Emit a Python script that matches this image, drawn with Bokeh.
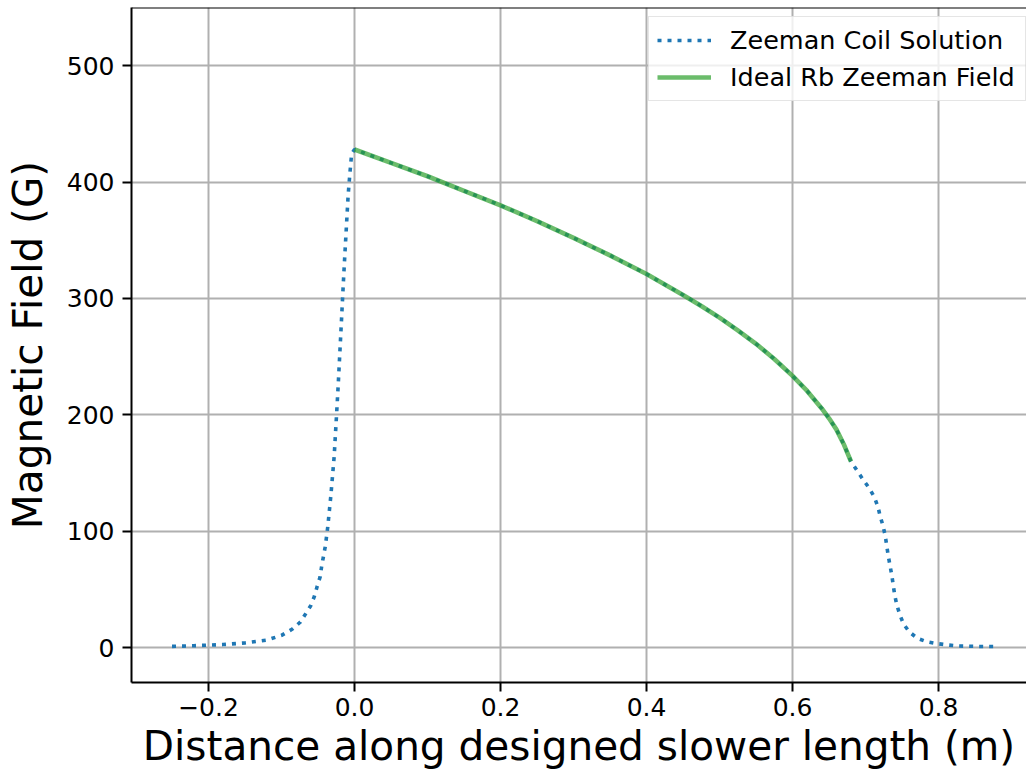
from bokeh.plotting import figure
from bokeh.models import FixedTicker, Legend, LegendItem, Span
from bokeh.embed import file_html
from bokeh.resources import INLINE

# Coil solution: field along the slower axis (m, G)
coil_x = [-0.25, -0.22, -0.20, -0.18, -0.15, -0.12, -0.10, -0.085, -0.074, -0.067,
          -0.060, -0.055, -0.051, -0.047, -0.045, -0.040, -0.0366, -0.0325, -0.0279,
          -0.0247, -0.0224, -0.0174, -0.0155, -0.0133, -0.011, -0.0087, -0.0064, -0.004,
          0.0, 0.05, 0.10, 0.15, 0.20, 0.25, 0.30, 0.35, 0.40, 0.45, 0.475, 0.50, 0.525,
          0.55, 0.575, 0.60, 0.62, 0.64, 0.65, 0.66, 0.67, 0.68, 0.689, 0.697, 0.705,
          0.712, 0.717, 0.720, 0.724, 0.727, 0.731, 0.736, 0.740, 0.743, 0.747, 0.752,
          0.760, 0.771, 0.784, 0.798, 0.812, 0.826, 0.840, 0.855, 0.880]
coil_b = [1.0, 1.6, 2.1, 2.6, 4.0, 6.5, 10.5, 16, 22, 29,
          36, 44, 53, 61, 70, 87, 104, 130, 164,
          199, 225, 287, 311, 337, 363, 389, 407, 424,
          428, 416.5, 405, 392.5, 380, 366.5, 352, 337, 321, 303, 293.5, 283.5, 272.5,
          261, 248, 233.5, 220.5, 205.5, 197, 187.5, 175, 160, 151.5, 144, 137,
          129.5, 121, 113, 104.6, 96, 79.3, 62, 45, 36.3, 28.3, 20.3,
          13.5, 8, 5, 3.4, 2.3, 1.4, 1.2, 1.0, 0.9]

# Ideal Rb Zeeman field profile
ideal_x = [0.0, 0.05, 0.10, 0.15, 0.20, 0.25, 0.30, 0.35, 0.40, 0.45, 0.475, 0.50,
           0.525, 0.55, 0.575, 0.60, 0.62, 0.64, 0.65, 0.66, 0.67, 0.68]
ideal_b = [428, 416.5, 405, 392.5, 380, 366.5, 352, 337, 321, 303, 293.5, 283.5,
           272.5, 261, 248, 233.5, 220.5, 205.5, 197, 187.5, 175, 160]

x_ticks = [-0.2, 0.0, 0.2, 0.4, 0.6, 0.8]
x_tick_labels = ["\u22120.2", "0.0", "0.2", "0.4", "0.6", "0.8"]
y_ticks = [0, 100, 200, 300, 400, 500]

FONT = "DejaVu Sans"

p = figure(width=1026, height=776, output_backend="svg", toolbar_location=None,
           x_range=(-0.3055, 0.9205), y_range=(-30, 550),
           min_border_left=130, min_border_right=0, min_border_top=7,
           min_border_bottom=94)
p.outline_line_color = None
p.background_fill_color = "white"
p.border_fill_color = "white"

for ax in (p.xaxis[0], p.yaxis[0]):
    ax.axis_line_width = 2
    ax.axis_line_color = "black"
    ax.major_tick_line_width = 2
    ax.major_tick_out = 9
    ax.major_tick_in = 0
    ax.minor_tick_line_color = None
    ax.major_label_text_font = FONT
    ax.major_label_text_font_size = "25px"
    ax.major_label_text_color = "black"
    ax.axis_label_text_font = FONT
    ax.axis_label_text_font_size = "40.6px"
    ax.axis_label_text_font_style = "normal"
    ax.axis_label_text_color = "black"

p.xaxis.ticker = FixedTicker(ticks=x_ticks)
p.xaxis.major_label_overrides = {t: s for t, s in zip(x_ticks, x_tick_labels)}
p.yaxis.ticker = FixedTicker(ticks=y_ticks)
p.xaxis.axis_label = "Distance along designed slower length (m)"
p.yaxis.axis_label = "Magnetic Field (G)"
p.xaxis.major_label_standoff = 6
p.xaxis.axis_label_standoff = 3
p.yaxis.major_label_standoff = 8
p.yaxis.axis_label_standoff = 12

p.xgrid.ticker = FixedTicker(ticks=x_ticks)
p.ygrid.ticker = FixedTicker(ticks=y_ticks)
for g in (p.xgrid[0], p.ygrid[0]):
    g.grid_line_color = "#b0b0b0"
    g.grid_line_width = 2

# top border of the axes box
p.add_layout(Span(location=550, dimension="width", line_color="black", line_width=2))

coil = p.line(coil_x, coil_b, line_color="#1f77b4", line_width=3.6,
              line_dash="4 6", line_cap="butt")
ideal = p.line(ideal_x, ideal_b, line_color="#2ca02c", line_alpha=0.7, line_width=4.6)

legend = Legend(items=[LegendItem(label="Zeeman Coil Solution", renderers=[coil]),
                       LegendItem(label="Ideal Rb Zeeman Field", renderers=[ideal])],
                location=(517, 581), orientation="vertical")
legend.label_text_font = FONT
legend.label_text_font_size = "25.5px"
legend.label_text_color = "black"
legend.glyph_width = 54
legend.glyph_height = 30
legend.label_height = 30
legend.label_width = 287
legend.label_standoff = 19
legend.spacing = 7
legend.padding = 8
legend.margin = 0
legend.border_line_color = "#cccccc"
legend.border_line_width = 1.5
legend.background_fill_color = "white"
legend.background_fill_alpha = 0.8
p.add_layout(legend)

open("out.html", "w").write(file_html(p, INLINE))
